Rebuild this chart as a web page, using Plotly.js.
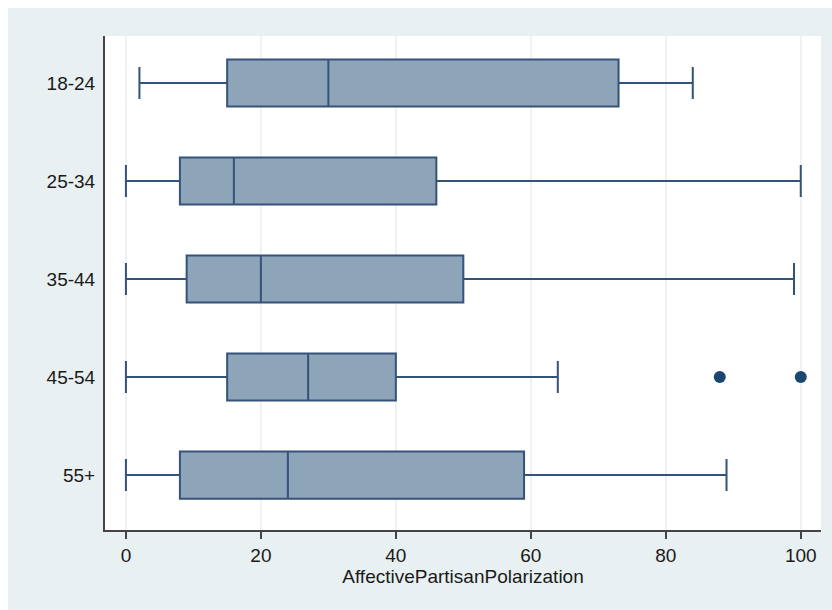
<!DOCTYPE html>
<html>
<head>
<meta charset="utf-8">
<script src="https://cdn.plot.ly/plotly-3.0.1.min.js"></script>
<style>
  html, body { margin: 0; padding: 0; background: #ffffff; }
  #chart { width: 832px; height: 610px; }
</style>
</head>
<body>
<div id="chart"></div>
<script>
// Age groups and the five-number summaries of affective partisan polarization
const ageGroups  = ["18-24", "25-34", "35-44", "45-54", "55+"];
const lowerFence = [2, 0, 0, 0, 0];
const q1         = [15, 8, 9, 15, 8];
const medians    = [30, 16, 20, 27, 24];
const q3         = [73, 46, 50, 40, 59];
const upperFence = [84, 100, 99, 64, 89];

// Observations beyond the whiskers
const outlierGroup = ["45-54", "45-54"];
const outlierValue = [88, 100];

const xTicks = [0, 20, 40, 60, 80, 100];

const navy = "#1a476f";

const boxTrace = {
  type: "box",
  orientation: "h",
  y: ageGroups,
  q1: q1,
  median: medians,
  q3: q3,
  lowerfence: lowerFence,
  upperfence: upperFence,
  boxpoints: false,
  width: 0.48,
  whiskerwidth: 0.68,
  fillcolor: "#8ea4b9",
  line: { color: "#34527a", width: 2 },
  hoverinfo: "skip",
  showlegend: false
};

const outlierTrace = {
  type: "scatter",
  mode: "markers",
  x: outlierValue,
  y: outlierGroup,
  marker: { color: navy, size: 12 },
  hoverinfo: "skip",
  showlegend: false
};

const layout = {
  width: 832,
  height: 610,
  margin: { l: 105, r: 11, t: 36, b: 80 },
  paper_bgcolor: "#ffffff",
  plot_bgcolor: "#ffffff",
  font: { family: "Liberation Sans, Arial, sans-serif", color: "#1a1a1a", size: 19 },
  xaxis: {
    range: [-3.1, 103],
    tickvals: xTicks,
    ticktext: xTicks.map(String),
    ticks: "outside",
    ticklen: 7,
    tickwidth: 1.5,
    tickcolor: "#444444",
    showline: true,
    linecolor: "#444444",
    linewidth: 2,
    showgrid: true,
    gridcolor: "#edf3f5",
    gridwidth: 1.5,
    zeroline: false,
    tickfont: { size: 19 },
    title: { text: "AffectivePartisanPolarization", font: { size: 19 }, standoff: 4 }
  },
  yaxis: {
    type: "category",
    categoryorder: "array",
    categoryarray: ageGroups,
    range: [4.56, -0.48],
    showline: true,
    linecolor: "#444444",
    linewidth: 2,
    showgrid: false,
    zeroline: false,
    ticks: "",
    ticklabelstandoff: 4,
    tickfont: { size: 19 }
  },
  shapes: [
    // light frame around the whole graph
    { type: "rect", xref: "paper", yref: "paper", layer: "below",
      x0: -97 / 716, x1: 11 / 716 + 1, y0: -84 / 494, y1: 1 + 28 / 494,
      fillcolor: "#e8f0f2", line: { width: 0 } },
    // white plotting region
    { type: "rect", xref: "paper", yref: "paper", layer: "below",
      x0: 0, x1: 1, y0: 0, y1: 1,
      fillcolor: "#ffffff", line: { width: 0 } }
  ]
};

Plotly.newPlot("chart", [boxTrace, outlierTrace], layout, { displayModeBar: false, staticPlot: true });
</script>
</body>
</html>
